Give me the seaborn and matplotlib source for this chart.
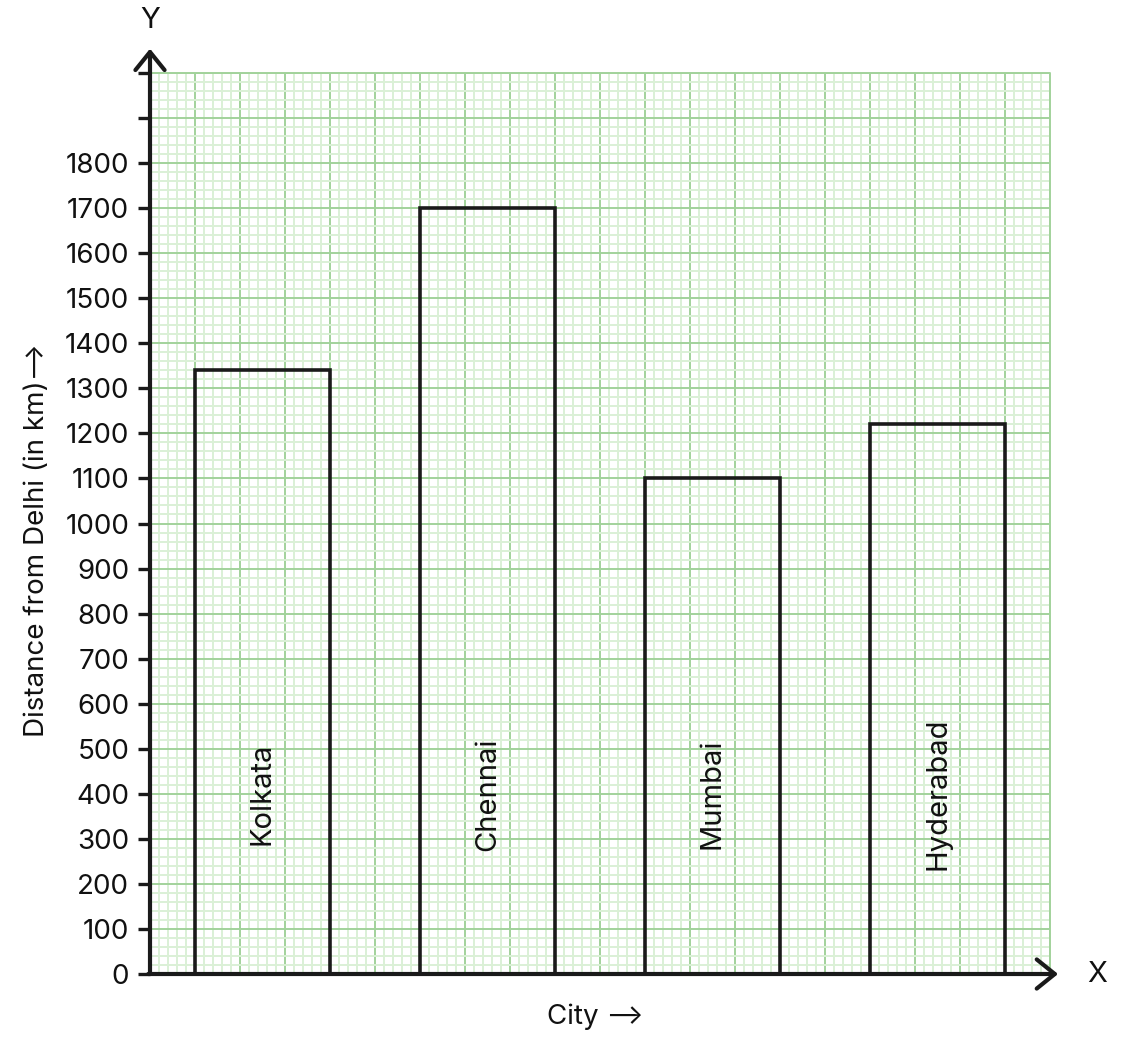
import matplotlib
matplotlib.use("Agg")
import matplotlib.pyplot as plt
from matplotlib.ticker import MultipleLocator
import seaborn as sns
import pandas as pd

# datos
cities = ["Kolkata", "Chennai", "Mumbai", "Hyderabad"]
distances = [1340, 1700, 1100, 1220]
y_ticks = list(range(0, 2001, 100))
y_tick_labels = [str(v) if v <= 1800 else "" for v in y_ticks]

sns.set_style("white")
plt.rcParams["font.family"] = ["Inter", "DejaVu Sans"]

# cada ciudad ocupa 3 cuadros de 5 en el papel milimetrado
df = pd.DataFrame({"pos": [2.5 + 5 * i for i in range(len(cities))],
                   "city": cities, "dist": distances})

fig = plt.figure(figsize=(11.31, 10.62), dpi=100)
ax = fig.add_axes([150 / 1131, 88 / 1062, 900 / 1131, 901 / 1062])

sns.barplot(data=df, x="pos", y="dist", native_scale=True, width=0.6,
            fill=False, color="#1a1a1a", linewidth=2.6, ax=ax, zorder=3,
            errorbar=None)
for p in ax.patches:
    p.set_edgecolor("#1a1a1a")
    p.set_facecolor("none")

ax.set_xlim(0, 20)
ax.set_ylim(0, 2000)

# cuadricula tipo papel milimetrado
ax.xaxis.set_major_locator(MultipleLocator(1))
ax.xaxis.set_minor_locator(MultipleLocator(0.2))
ax.yaxis.set_minor_locator(MultipleLocator(20))
ax.set_yticks(y_ticks)
ax.set_yticklabels(y_tick_labels, fontsize=20, color="#111111")
ax.grid(which="minor", color="#dbf0d6", linewidth=1.4, zorder=0)
ax.grid(which="major", color="#a2d29b", linewidth=1.4, zorder=1)
ax.set_axisbelow(True)

ax.tick_params(axis="x", which="both", length=0, labelbottom=False)
ax.tick_params(axis="y", which="major", length=9, width=2.4, color="#1a1a1a",
               direction="out", pad=6, left=True)
ax.tick_params(axis="y", which="minor", length=0)

for s in ["top", "right", "left", "bottom"]:
    ax.spines[s].set_visible(False)
# borde verde del papel
ax.plot([0, 20, 20], [2000, 2000, 0], color="#a2d29b", lw=1.4, zorder=1,
        clip_on=False)

# ejes con flechas
arrow = dict(arrowstyle="->,head_length=1.3,head_width=1.05", lw=3,
             color="#1a1a1a", shrinkA=0, shrinkB=0)
ax.annotate("", xy=(0, 1.027), xytext=(0, 0), xycoords="axes fraction",
            arrowprops=arrow, annotation_clip=False, zorder=5)
ax.annotate("", xy=(1.009, 0), xytext=(-0.002, 0), xycoords="axes fraction",
            arrowprops=arrow, annotation_clip=False, zorder=5)
ax.text(0, 1.058, "Y", transform=ax.transAxes, ha="center", va="center",
        fontsize=21, color="#111111")
ax.text(1.052, 0, "X", transform=ax.transAxes, ha="center", va="center",
        fontsize=21, color="#111111")

# nombres dentro de las barras
for p, name in zip(ax.patches, cities):
    ax.text(p.get_x() + p.get_width() / 2, 400, name, rotation=90,
            ha="center", va="center", fontsize=21, color="#111111", zorder=4)

ax.set_xlabel("City \u27f6", fontsize=20, color="#111111")
ax.xaxis.set_label_coords(0.495, -0.033)
ax.set_ylabel("Distance from Delhi (in km)\u27f6", fontsize=20,
              color="#111111")
ax.yaxis.set_label_coords(-0.111, 0.482)

fig.savefig("out.png", dpi=100)
